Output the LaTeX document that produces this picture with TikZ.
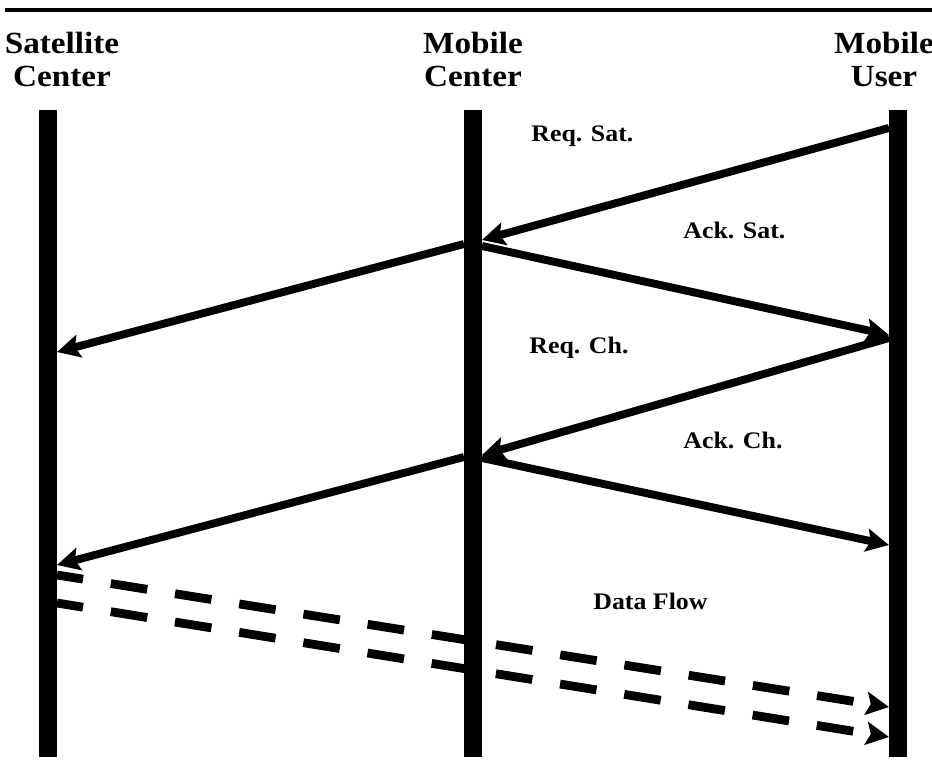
\documentclass[tikz,border=0pt]{standalone}
\usepackage{fontspec}
\setmainfont{Liberation Serif}
\usetikzlibrary{arrows.meta}

\begin{document}
\begin{tikzpicture}[x=0.02cm, y=-0.02cm,
    lifeline/.style={line width=10.2pt},
    msg/.style={-{Stealth[length=13pt,width=13pt,inset=2.5pt]}, line width=4.5pt},
    dataflow/.style={msg, line width=5pt, dash pattern=on 21pt off 16pt, dash phase=6pt},
    hdr/.style={font=\fontsize{17.5}{18.7}\selectfont\bfseries, align=center, xscale=1.08, inner sep=0pt},
    lbl/.style={font=\fontsize{13.5}{15}\selectfont\bfseries, xscale=1.09, inner sep=0pt, anchor=base west}]
    \useasboundingbox (0,0) rectangle (932,772);

    % Top rule
    \draw[line width=2.3pt] (5,10) -- (932,10);

    % Headers
    \node[hdr, anchor=base] (satlbl) at (62,86) {Satellite\\Center};
    \node[hdr, anchor=base] (mclbl) at (473,86) {Mobile\\Center};
    \node[hdr, anchor=base] (mulbl) at (884,86) {Mobile\\User};

    % Lifelines
    \coordinate (sattop) at (48,110);
    \coordinate (satbot) at (48,757);
    \coordinate (mctop) at (473,110);
    \coordinate (mcbot) at (473,757);
    \coordinate (mutop) at (898,110);
    \coordinate (mubot) at (898,757);
    \draw[lifeline] (sattop) -- (satbot);
    \draw[lifeline] (mctop) -- (mcbot);
    \draw[lifeline] (mutop) -- (mubot);

    % Points on the lifelines
    \coordinate (mu1) at (889,128);
    \coordinate (mc1) at (482,240);
    \coordinate (mc1l) at (464,244);
    \coordinate (sat1) at (57,352);
    \coordinate (mc2) at (482,246);
    \coordinate (mu2) at (889,335);
    \coordinate (mu3) at (889,338);
    \coordinate (mc3) at (482,455);
    \coordinate (mc3l) at (464,457);
    \coordinate (sat3) at (57,565);
    \coordinate (mc4) at (482,458);
    \coordinate (mu4) at (889,545);
    \coordinate (sat5) at (57,575);
    \coordinate (mu5) at (889,707);
    \coordinate (sat6) at (57,603);
    \coordinate (mu6) at (889,737);

    % Satellite request and ack
    \draw[msg] (mu1) -- (mc1);
    \draw[msg] (mc1l) -- (sat1);
    \draw[msg] (mc2) -- (mu2);

    % Channel request and ack
    \draw[msg] (mu3) -- (mc3);
    \draw[msg] (mc3l) -- (sat3);
    \draw[msg] (mc4) -- (mu4);

    % Data flow
    \draw[dataflow] (sat5) -- (mu5);
    \draw[dataflow] (sat6) -- (mu6);

    % Labels
    \node[lbl] (reqsat) at (531,141) {Req. Sat.};
    \node[lbl] (acksat) at (683,238) {Ack. Sat.};
    \node[lbl] (reqch) at (529,353) {Req. Ch.};
    \node[lbl] (ackch) at (683,448) {Ack. Ch.};
    \node[lbl] (data) at (593,609) {Data Flow};
\end{tikzpicture}
\end{document}
